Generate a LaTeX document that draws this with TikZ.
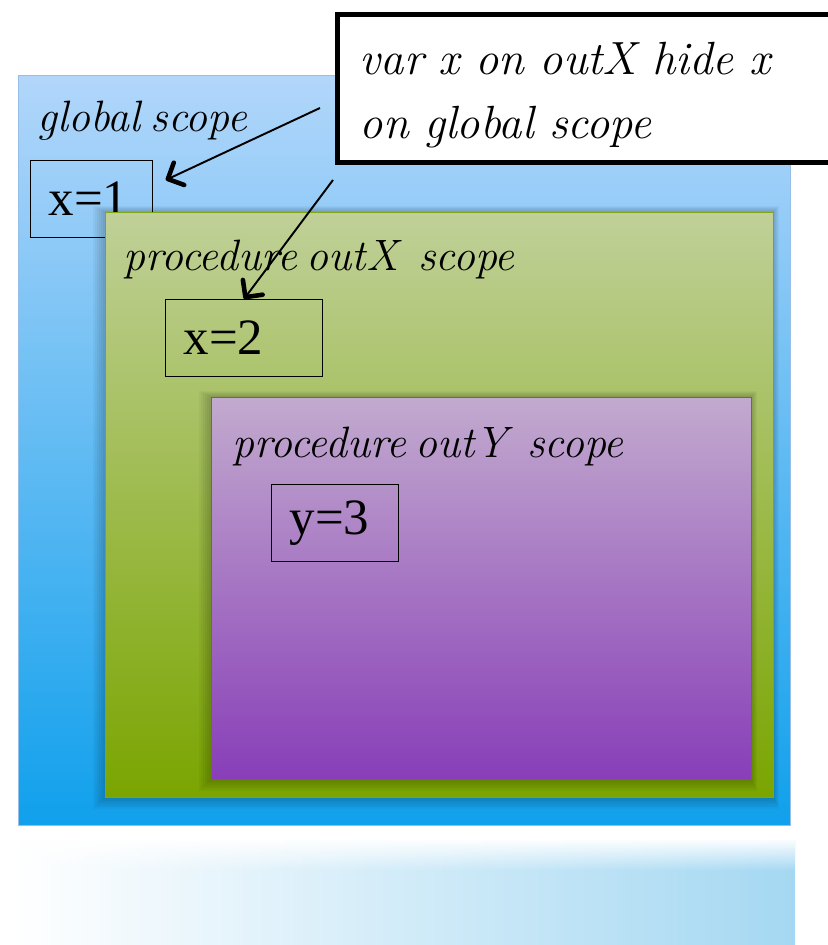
\documentclass[tikz,border=0pt]{standalone}
\usepackage{fontspec}
\setmainfont{Liberation Serif}
\newfontfamily\labelfam{Latin Modern Roman}[WordSpace=0.65]
\usetikzlibrary{arrows.meta, positioning}
\definecolor{globtop}{RGB}{178,214,250}
\definecolor{globbot}{RGB}{16,160,236}
\definecolor{globline}{RGB}{150,190,230}
\definecolor{outxtop}{RGB}{192,208,152}
\definecolor{outxbot}{RGB}{122,165,0}
\definecolor{outxline}{RGB}{130,165,20}
\definecolor{outytop}{RGB}{194,170,206}
\definecolor{outybot}{RGB}{136,62,184}
\definecolor{outyline}{RGB}{140,70,185}
\definecolor{reflblue}{RGB}{165,216,242}
\newcommand{\valfont}{\fontsize{29}{34}\selectfont}
\newcommand{\scopefont}{\labelfam\fontsize{25}{30}\selectfont\itshape}
\newcommand{\notefont}{\labelfam\fontsize{26.5}{36}\selectfont\itshape}

\begin{document}
\begin{tikzpicture}[
    x=0.02cm, y=-0.02cm,
    scopebox/.style={rectangle, anchor=north west, inner sep=0pt, line width=0.8pt},
    scopelabel/.style={anchor=base west, inner sep=0pt, font=\scopefont},
    valbox/.style={rectangle, draw=black, line width=0.6pt, anchor=north west, inner xsep=0.36cm, minimum height=1.54cm, align=left, font=\valfont},
    callarrow/.style={-{Straight Barb[length=7pt, width=14pt, line width=2.6pt, round]}, line width=1.1pt, black},
    softshade/.style={black, opacity=0.035}
]
\useasboundingbox (0,0) rectangle (827,945);

\shade[left color=white, right color=reflblue] (10,840) rectangle (795,945);
\foreach \i in {0,...,15}
  \fill[white, opacity=1-\i/16] (10,838+2*\i) rectangle (795,840+2*\i);

\node[scopebox, draw=globline, top color=globtop, bottom color=globbot, minimum width=15.44cm, minimum height=15cm] (glob) at (18,75) {};
\node[scopelabel] (globlbl) at (37,132) {global scope};
\node[valbox, text width=1.72cm] (xone) at (30,160) {x=1};

\foreach \d in {2,4,...,12}
  \fill[softshade] (105-\d,212-\d/2) rectangle (773+\d/2,797+\d);
\node[scopebox, draw=outxline, top color=outxtop, bottom color=outxbot, minimum width=13.36cm, minimum height=11.7cm] (outx) at (105,212) {};
\node[scopelabel] (outxlbl) at (123,271) {procedure outX\ \ scope};
\node[valbox, text width=2.42cm] (xtwo) at (165,299) {x=2};

\foreach \d in {2,4,...,12}
  \fill[softshade] (211-\d,397-\d/2) rectangle (751+\d/2,779+\d);
\node[scopebox, draw=outyline, top color=outytop, bottom color=outybot, minimum width=10.8cm, minimum height=7.64cm] (outy) at (211,397) {};
\node[scopelabel] (outylbl) at (232,457) {procedure outY\ \ scope};
\node[valbox, text width=1.82cm] (ythree) at (271,484) {y=3};

\node[anchor=north west, draw=black, line width=2.8pt, fill=white, minimum width=10.2cm, minimum height=2.96cm, text width=9.3cm, inner xsep=0.44cm, align=left, font=\notefont] (note) at (335,12) {\rule{0pt}{26pt}var x on outX hide x\\on global scope};

\coordinate (s1) at (320,108);
\coordinate (s2) at (333,180);
\draw[callarrow, shorten >=8pt] (s1) -- (xone.12);
\draw[callarrow] (s2) -- (xtwo.north);
\end{tikzpicture}
\end{document}
